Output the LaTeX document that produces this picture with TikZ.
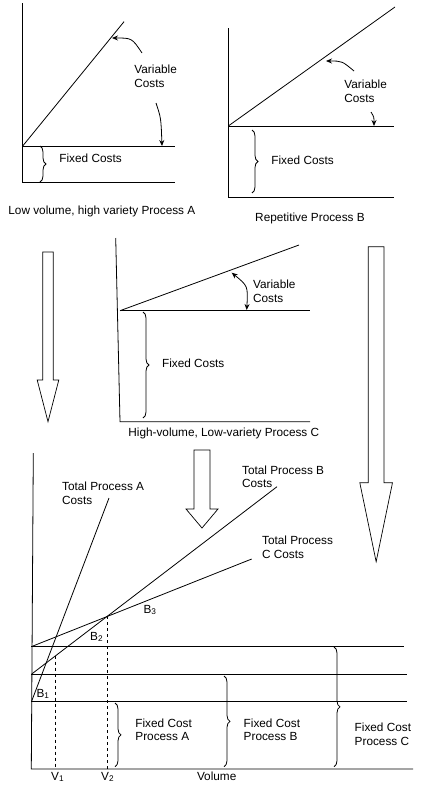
\documentclass[tikz,border=0pt]{standalone}
\usepackage{fontspec}
\setmainfont{Liberation Sans}
\usetikzlibrary{decorations.pathreplacing,arrows.meta}
\begin{document}
\begin{tikzpicture}[x=1pt,y=-1pt,line width=0.8pt,>={Stealth[length=6pt,width=5pt]},
  font=\fontsize{11.8}{13.6}\selectfont,
  lbl/.style={anchor=west,align=left,inner sep=0pt},
  brc/.style={decorate,decoration={brace,amplitude=6pt}}]
\useasboundingbox (0,0) rectangle (421,787);
% process A
\draw (22.7,3) -- (22.7,182) -- (175,182);
\draw (22.7,146) -- (175,146);
\draw (22.7,146) -- (124,21.7);
\draw[brc] (40,146) -- (40,182);
\node[lbl] (fixA) at (59,158) {Fixed Costs};
\node[lbl] (varA) at (134,76.5) {Variable\\Costs};
\draw[->] (142,53) .. controls (132,38) .. (112,38);
\draw[->] (156,103) .. controls (161,118) .. (162,146);
\node[lbl] (capA) at (8,211) {Low volume, high variety Process A};
% process B
\draw (228.3,28) -- (228.3,197) -- (394,197);
\draw (228.3,126) -- (394,126);
\draw (228.3,126) -- (395,7);
\draw[brc] (252,130) -- (252,193);
\node[lbl] (fixB) at (271,160) {Fixed Costs};
\node[lbl] (varB) at (344,91.5) {Variable\\Costs};
\draw[->] (354,71) .. controls (342,61) .. (326,61);
\draw[->] (371,112) .. controls (374,117) .. (374,126);
\node (capB) at (310,218) {Repetitive Process B};
% process C
\draw (115.7,238) -- (120,421.7) -- (310,421.7);
\draw (120,310.7) -- (310,310.7);
\draw (120,310.7) -- (299,245);
\draw[brc] (143,312) -- (143,418);
\node[lbl] (fixC) at (161.7,363) {Fixed Costs};
\node[lbl] (varC) at (252.7,291) {Variable\\Costs};
\draw[<->] (231.7,272.7) .. controls (248,286) .. (246.7,310);
\node[lbl] (capC) at (128,433) {High-volume, Low-variety Process C};
% hollow arrows
\foreach \l/\r/\t/\n/\w/\b in {42.7/53.3/252/380/5.5/421.7,194/210/450/509/8/528,368.3/384/246.7/482.7/8.5/561.7}
  \draw[line width=0.7pt] (\l,\t) -- (\r,\t) -- (\r,\n) -- (\r+\w,\n) -- ({(\l+\r)/2},\b)
    -- (\l-\w,\n) -- (\l,\n) -- cycle;
% total costs
\draw (33.3,453) -- (31.3,769) -- (413,769);
\draw (31.3,701) -- (407,701);
\draw (31.3,674) -- (407,674);
\draw (31.3,646.5) -- (404,646.5);
\draw (31.7,701) -- (109,498);
\draw (31.7,674) -- (277,486.7);
\draw (31.7,646.5) -- (251.7,559);
\coordinate (v1top) at (55.7,655.7);
\coordinate (v2top) at (107.5,616);
\draw[dashed] (v1top) -- (v1top |- 0,769);
\draw[dashed] (v2top) -- (v2top |- 0,769);
\node[lbl] (totA) at (61.7,493.3) {Total Process A\\Costs};
\node[lbl] (totB) at (241.7,476.7) {Total Process B\\Costs};
\node[lbl] (totC) at (261.7,547.5) {Total Process\\C Costs};
\node (bthree) at (150,610) {B\textsubscript{3}};
\node (btwo) at (96.7,637) {B\textsubscript{2}};
\node (bone) at (43,694) {B\textsubscript{1}};
\draw[brc] (115,703) -- (115,766.7);
\draw[brc] (224,676) -- (224,766.7);
\draw[brc] (334,647) -- (334,766.7);
\node[lbl] (fcA) at (135,729.7) {Fixed Cost\\Process A};
\node[lbl] (fcB) at (243.3,729.7) {Fixed Cost\\Process B};
\node[lbl] (fcC) at (354.3,734) {Fixed Cost\\Process C};
\node (vone) at (57.7,777) {V\textsubscript{1}};
\node (vtwo) at (107.7,777) {V\textsubscript{2}};
\node (vol) at (216.7,776) {Volume};
\end{tikzpicture}
\end{document}
